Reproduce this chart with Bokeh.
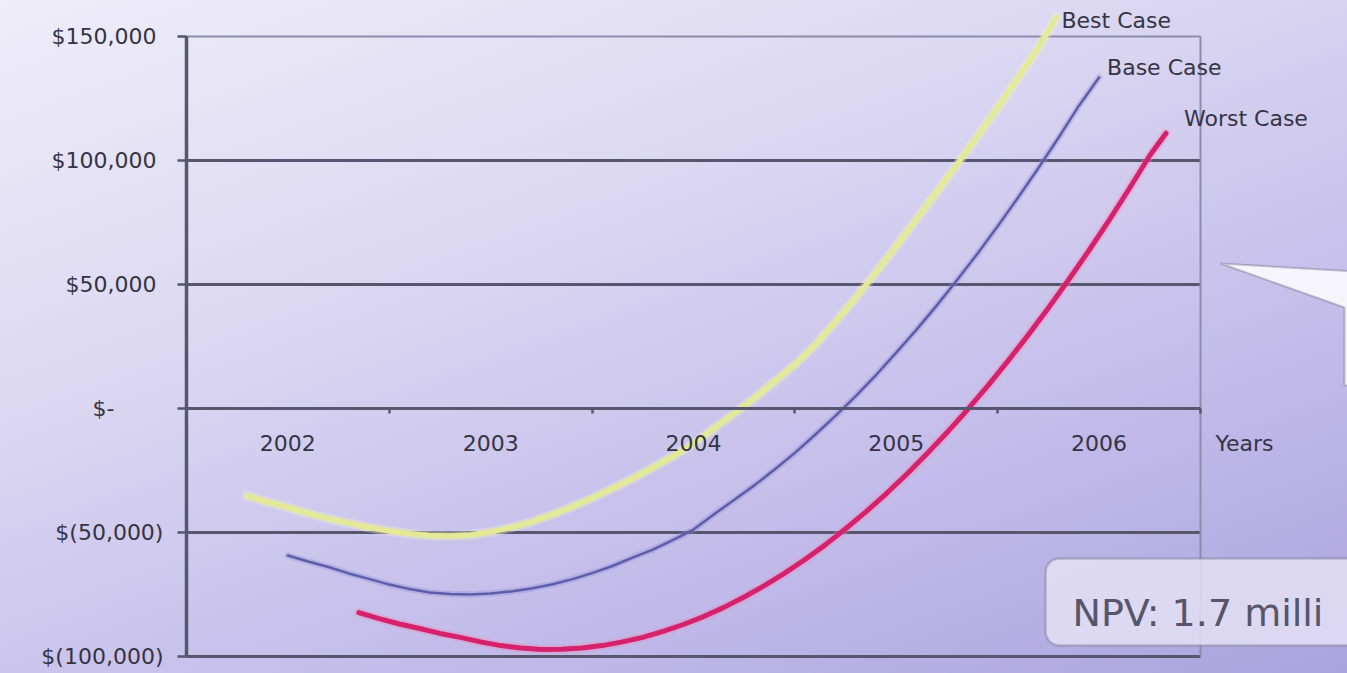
from bokeh.plotting import figure
from bokeh.models import LinearAxis, Grid, FixedTicker, BoxAnnotation, PolyAnnotation, Label
from bokeh.core.properties import value
from bokeh.embed import file_html
from bokeh.resources import INLINE

# ---- data -------------------------------------------------------------
years = [2002, 2003, 2004, 2005, 2006]
year_labels = ["2002", "2003", "2004", "2005", "2006"]

y_ticks = [-100000, -50000, 0, 50000, 100000, 150000]
y_tick_labels = ["$(100,000)", "$(50,000)", "$-", "$50,000", "$100,000", "$150,000"]

series_names = ["Best Case", "Base Case", "Worst Case"]

best_x = [2001.80, 2001.90, 2002.00, 2002.10, 2002.20, 2002.30, 2002.40, 2002.50,
          2002.60, 2002.70, 2002.80, 2002.90, 2003.00, 2003.10, 2003.20, 2003.30,
          2003.40, 2003.50, 2003.60, 2003.70, 2003.80, 2003.90, 2004.00, 2004.10,
          2004.20, 2004.30, 2004.40, 2004.50, 2004.60, 2004.70, 2004.80, 2004.90,
          2005.00, 2005.10, 2005.20, 2005.30, 2005.40, 2005.50, 2005.60, 2005.70,
          2005.79]
best_y = [-35200, -37700, -39900, -42300, -44400, -46200, -48000, -49400,
          -50500, -51200, -51400, -51000, -49800, -48000, -45800, -42900,
          -39700, -36100, -32300, -28200, -23800, -19200, -14100, -8100,
          -2000, 4200, 10900, 17700, 25600, 34900, 44600, 54900,
          65400, 76400, 87300, 98400, 109700, 121300, 133200, 145500,
          157700]

base_x = [2002.00, 2002.10, 2002.20, 2002.30, 2002.40, 2002.50, 2002.60, 2002.70,
          2002.80, 2002.90, 2003.00, 2003.10, 2003.20, 2003.30, 2003.40, 2003.50,
          2003.60, 2003.70, 2003.80, 2003.90, 2004.00, 2004.10, 2004.20, 2004.30,
          2004.40, 2004.50, 2004.60, 2004.70, 2004.80, 2004.90, 2005.00, 2005.10,
          2005.20, 2005.30, 2005.40, 2005.50, 2005.60, 2005.70, 2005.80, 2005.90,
          2006.00]
base_y = [-59300, -61700, -63900, -66500, -68700, -71000, -72800, -74200,
          -74800, -75000, -74600, -73800, -72600, -71000, -68900, -66400,
          -63500, -60100, -56900, -53000, -48800, -42700, -36900, -31000,
          -24600, -17900, -10600, -3000, 5000, 13500, 22500, 31800,
          41600, 51800, 62400, 73500, 85000, 96900, 109200, 122000,
          133500]

worst_x = [2002.35, 2002.45, 2002.55, 2002.65, 2002.75, 2002.85, 2002.95, 2003.05,
           2003.15, 2003.25, 2003.35, 2003.45, 2003.55, 2003.65, 2003.75, 2003.85,
           2003.95, 2004.05, 2004.15, 2004.25, 2004.35, 2004.45, 2004.55, 2004.65,
           2004.75, 2004.85, 2004.95, 2005.05, 2005.15, 2005.25, 2005.35, 2005.45,
           2005.55, 2005.65, 2005.75, 2005.85, 2005.95, 2006.05, 2006.15, 2006.25,
           2006.33]
worst_y = [-82300, -84700, -86900, -88700, -90700, -92300, -94100, -95600,
           -96600, -97200, -97100, -96600, -95600, -94100, -92300, -89900,
           -87100, -83900, -80200, -76000, -71400, -66400, -60900, -55000,
           -48500, -41700, -34400, -26600, -18300, -9700, -600, 9000,
           19100, 29600, 40500, 51900, 63700, 76000, 88800, 102000,
           111000]

npv_text = "NPV: 1.7 milli"

# ---- styling ------------------------------------------------------------
FONT = "DejaVu Sans"
INK = "#353444"
RULE = "#57566f"
LIGHT_RULE = "#8e8cac"

line_colors = ["#e3e996", "#5d5dab", "#d6226c"]
halo_colors = ["#f2f5c0", "#8c8cd0", "#f08ab4"]
line_widths = [5.5, 2.5, 5]
label_offsets = [(5, 3), (8, -10), (18, -15)]

x_lo, x_hi = years[0] - 0.5, years[-1] + 0.5
year_edges = [y - 0.5 for y in years] + [x_hi]

p = figure(width=1347, height=673,
           x_range=(2000.583, 2007.225), y_range=(-106855, 164516),
           x_axis_type=None, y_axis_type=None,
           output_backend="svg", toolbar_location=None, min_border=0)
p.outline_line_color = None
p.background_fill_color = None
p.border_fill_color = None
p.styles = {"background": "linear-gradient(160deg, #efedf9 0%, #dcd8f2 35%, #c3bcea 70%, #aba3de 100%)"}

# horizontal rules
p.add_layout(Grid(dimension=1, ticker=FixedTicker(ticks=[t for t in y_ticks if t not in (0, y_ticks[-1])]),
                  grid_line_color=RULE, grid_line_width=3, cross_bounds=(x_lo, x_hi)))
p.add_layout(Grid(dimension=1, ticker=FixedTicker(ticks=[y_ticks[-1]]),
                  grid_line_color=LIGHT_RULE, grid_line_width=2, cross_bounds=(x_lo, x_hi)))
# right edge of the plot area
p.add_layout(Grid(dimension=0, ticker=FixedTicker(ticks=[x_hi]),
                  grid_line_color=LIGHT_RULE, grid_line_width=2,
                  cross_bounds=(y_ticks[0], y_ticks[-1])))

# value axis with accounting-style labels
pads = {"$-": "\u2007\u2007\u2007\u00a0"}
y_over = {}
for t, lab in zip(y_ticks, y_tick_labels):
    if lab in pads:
        y_over[t] = lab + pads[lab]
    elif lab.endswith(")"):
        y_over[t] = lab
    else:
        y_over[t] = lab + "\u00a0"

yaxis = LinearAxis(fixed_location=x_lo, ticker=FixedTicker(ticks=y_ticks),
                   bounds=(y_ticks[0], y_ticks[-1]),
                   axis_line_color=RULE, axis_line_width=3.5,
                   major_tick_out=9, major_tick_in=0,
                   major_tick_line_color=RULE, major_tick_line_width=2.5,
                   major_label_standoff=14, major_label_overrides=y_over,
                   major_label_text_font=FONT, major_label_text_font_size="22px",
                   major_label_text_color=INK)
p.add_layout(yaxis, "left")

# year axis sitting on the zero line
xaxis = LinearAxis(fixed_location=0,
                   ticker=FixedTicker(ticks=years, minor_ticks=year_edges),
                   bounds=(x_lo, x_hi),
                   axis_line_color=RULE, axis_line_width=3,
                   major_tick_line_color=None, major_tick_out=0, major_tick_in=0,
                   minor_tick_out=5, minor_tick_in=0,
                   minor_tick_line_color=RULE, minor_tick_line_width=2.5,
                   major_label_standoff=22,
                   major_label_overrides=dict(zip(years, year_labels)),
                   major_label_text_font=FONT, major_label_text_font_size="22px",
                   major_label_text_color=INK)
p.add_layout(xaxis, "below")

p.text(x=[x_hi], y=[0], text=["Years"], x_offset=15, y_offset=35,
       text_baseline="middle", text_align="left",
       text_font=value(FONT), text_font_size="22px", text_color=INK)

# scenario curves
all_x = [best_x, base_x, worst_x]
all_y = [best_y, base_y, worst_y]
for xs, ys, c, h, w in zip(all_x, all_y, line_colors, halo_colors, line_widths):
    p.line(xs, ys, line_color=h, line_width=w + 4, line_alpha=0.35,
           line_cap="round", line_join="round")
    p.line(xs, ys, line_color=c, line_width=w, line_cap="round", line_join="round")

for xs, ys, name, (dx, dy) in zip(all_x, all_y, series_names, label_offsets):
    p.text(x=[xs[-1]], y=[ys[-1]], text=[name], x_offset=dx, y_offset=dy,
           text_baseline="middle", text_align="left",
           text_font=value(FONT), text_font_size="22px", text_color=INK)

# callout pointer at the right edge
p.add_layout(PolyAnnotation(xs=[2006.599, 2007.26, 2007.26, 2007.21, 2007.21],
                            ys=[58464, 55238, 9274, 9274, 40723],
                            fill_color="#f6f5fc", fill_alpha=1.0,
                            line_color="#4d4c62", line_width=2))

# NPV callout box
p.add_layout(BoxAnnotation(left=2005.736, right=2007.6, top=-60480, bottom=-95558,
                           fill_color="#e7e4f6", fill_alpha=0.8,
                           line_color="#5a596e", line_width=2.5, border_radius=14))
p.add_layout(Label(x=2005.869, y=-82656, text=npv_text,
                   text_font=FONT, text_font_size="38px", text_color="#56556a",
                   text_baseline="alphabetic"))

open("out.html", "w").write(file_html(p, INLINE))
